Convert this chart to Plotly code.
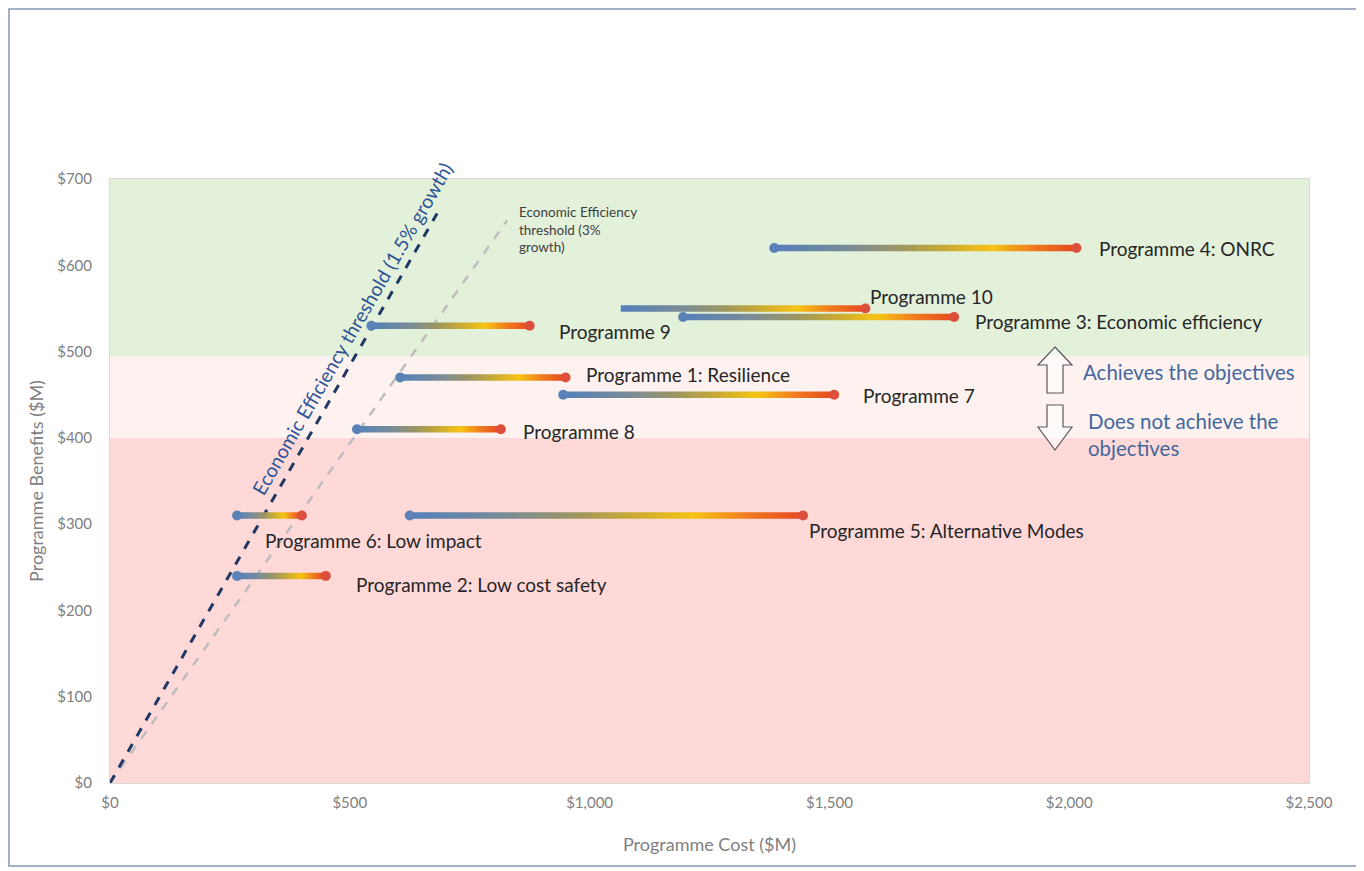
import plotly.graph_objects as go

# Programme cost ranges ($M) and benefits ($M)
programmes = ["Programme 4: ONRC", "Programme 10", "Programme 3: Economic efficiency",
              "Programme 9", "Programme 1: Resilience", "Programme 7", "Programme 8",
              "Programme 6: Low impact", "Programme 5: Alternative Modes",
              "Programme 2: Low cost safety"]
cost_low = [1385, 1065, 1195, 545, 605, 945, 515, 265, 625, 265]
cost_high = [2015, 1575, 1760, 875, 950, 1510, 815, 400, 1445, 450]
benefits = [620, 550, 540, 530, 470, 450, 410, 310, 310, 240]
start_dot = [True, False, True, True, True, True, True, True, True, True]

# threshold lines (cost, benefit)
thr_15_cost = [0, 682]
thr_15_benefit = [0, 660]
thr_3_cost = [0, 828]
thr_3_benefit = [0, 652]

# objective bands
band_fail = 400
band_achieve = 495

x_ticks = [0, 500, 1000, 1500, 2000, 2500]
y_ticks = [0, 100, 200, 300, 400, 500, 600, 700]
x_ticktext = [f"${v:,}" for v in x_ticks]
y_ticktext = [f"${v:,}" for v in y_ticks]

# label offsets in pixels from the high-cost end of each bar
label_shift = [(21, 0), (3, 12), (19, -4), (27, -6), (18, 3), (27, -1),
               (20, -2), (-39, -25), (4, -15), (28, -9)]

# the page has an 8px body margin, so the figure is a bit smaller than the window
W, H = 1356, 863
PLOT_L, PLOT_R, PLOT_T, PLOT_B = 110, 1309, 179, 783   # screen pixels
PW, PH = PLOT_R - PLOT_L, PLOT_B - PLOT_T
L, T = PLOT_L - 8, PLOT_T - 8
R, B = W - (PLOT_R - 8), H - (PLOT_B - 8)


def px(x):
    return (x - PLOT_L) / PW


def py(y):
    return (PLOT_B - y) / PH


FONT = "Lato, 'Open Sans', sans-serif"
GRAD = [[0.0, "rgb(84,128,186)"], [0.25, "rgb(122,140,150)"], [0.42, "rgb(156,150,96)"],
        [0.58, "rgb(205,172,48)"], [0.72, "rgb(246,196,22)"], [0.86, "rgb(240,122,30)"],
        [1.0, "rgb(228,72,32)"]]

fig = go.Figure()

# background bands
fig.add_hrect(y0=0, y1=band_fail, fillcolor="#ffd8d8", line_width=0, layer="below")
fig.add_hrect(y0=band_fail, y1=band_achieve, fillcolor="#fdf2f0", line_width=0, layer="below")
fig.add_hrect(y0=band_achieve, y1=700, fillcolor="#e3f0da", line_width=0, layer="below")

# threshold lines
fig.add_trace(go.Scatter(x=thr_3_cost, y=thr_3_benefit, mode="lines",
                         line=dict(color="#bdbdbd", width=2.5, dash="dash"),
                         hoverinfo="skip", showlegend=False))
fig.add_trace(go.Scatter(x=thr_15_cost, y=thr_15_benefit, mode="lines",
                         line=dict(color="#1f3864", width=3, dash="dash"),
                         hoverinfo="skip", showlegend=False))

# gradient bars
half = 3.8
for name, lo, hi, b, dot in zip(programmes, cost_low, cost_high, benefits, start_dot):
    fig.add_trace(go.Scatter(
        x=[lo, hi, hi, lo, lo], y=[b - half, b - half, b + half, b + half, b - half],
        mode="lines", line=dict(width=0), fill="toself",
        fillgradient=dict(type="horizontal", colorscale=GRAD),
        name=name, hoverinfo="name", showlegend=False))
    if dot:
        fig.add_trace(go.Scatter(x=[lo], y=[b], mode="markers",
                                 marker=dict(color="#5a82b6", size=10),
                                 hoverinfo="skip", showlegend=False))
    fig.add_trace(go.Scatter(x=[hi], y=[b], mode="markers",
                             marker=dict(color="#dc4f3c", size=10),
                             hoverinfo="skip", showlegend=False))

# programme labels
for name, hi, b, (dx, dy) in zip(programmes, cost_high, benefits, label_shift):
    fig.add_annotation(x=hi, y=b, text=name, showarrow=False, xanchor="left",
                       yanchor="middle", xshift=dx, yshift=dy,
                       font=dict(family=FONT, size=19, color="#262626"))

# threshold labels
fig.add_annotation(x=505, y=527, text="Economic Efficiency threshold (1.5% growth)",
                   textangle=-60, showarrow=False,
                   font=dict(family=FONT, size=19.5, color="#2f5597"))
fig.add_annotation(xref="paper", yref="paper", x=px(517), y=py(202),
                   xanchor="left", yanchor="top", align="left", showarrow=False,
                   text="Economic Efficiency<br>threshold (3%<br>growth)",
                   font=dict(family=FONT, size=13.5, color="#404040"))


# objective arrows
def arrow(cx, tip, base, end):
    hw, sw = 17, 8
    return (f"M {px(cx)} {py(tip)} L {px(cx + hw)} {py(base)} L {px(cx + sw)} {py(base)} "
            f"L {px(cx + sw)} {py(end)} L {px(cx - sw)} {py(end)} L {px(cx - sw)} {py(base)} "
            f"L {px(cx - hw)} {py(base)} Z")


fig.add_shape(type="path", xref="paper", yref="paper", path=arrow(1055, 347, 365, 393),
              line=dict(color="#595959", width=1.2), fillcolor="rgba(255,255,255,0.6)")
fig.add_shape(type="path", xref="paper", yref="paper", path=arrow(1055, 450, 427, 405),
              line=dict(color="#595959", width=1.2), fillcolor="rgba(255,255,255,0.6)")
fig.add_annotation(xref="paper", yref="paper", x=px(1081), y=py(372), xanchor="left",
                   yanchor="middle", showarrow=False, text="Achieves the objectives",
                   font=dict(family=FONT, size=20.5, color="#44689c"))
fig.add_annotation(xref="paper", yref="paper", x=px(1086), y=py(434), xanchor="left",
                   yanchor="middle", align="left", showarrow=False,
                   text="Does not achieve the<br>objectives",
                   font=dict(family=FONT, size=20.5, color="#44689c"))

# outer chart border
fig.add_shape(type="rect", xref="paper", yref="paper", x0=px(9), x1=px(1357),
              y0=py(866), y1=py(9), line=dict(color="#8497b0", width=1.5),
              fillcolor="rgba(0,0,0,0)")

fig.update_layout(
    width=W, height=H,
    margin=dict(l=L, r=R, t=T, b=B),
    paper_bgcolor="white", plot_bgcolor="white",
    font=dict(family=FONT, color="#808080"),
    showlegend=False,
    xaxis=dict(range=[0, 2500], tickvals=x_ticks, ticktext=x_ticktext,
               showgrid=False, zeroline=False, showline=True, linecolor="#d9d9d9",
               mirror=True, ticks="", ticklabelstandoff=6,
               tickfont=dict(size=15, color="#808080"),
               title=dict(text="Programme Cost ($M)", standoff=28,
                          font=dict(size=18, color="#808080"))),
    yaxis=dict(range=[0, 700], tickvals=y_ticks, ticktext=y_ticktext,
               showgrid=False, zeroline=False, showline=True, linecolor="#d9d9d9",
               mirror=True, ticks="", ticklabelstandoff=14,
               tickfont=dict(size=15, color="#808080"),
               title=dict(text="Programme Benefits ($M)", standoff=8,
                          font=dict(size=18, color="#808080"))),
)

fig.write_html("out.html")
